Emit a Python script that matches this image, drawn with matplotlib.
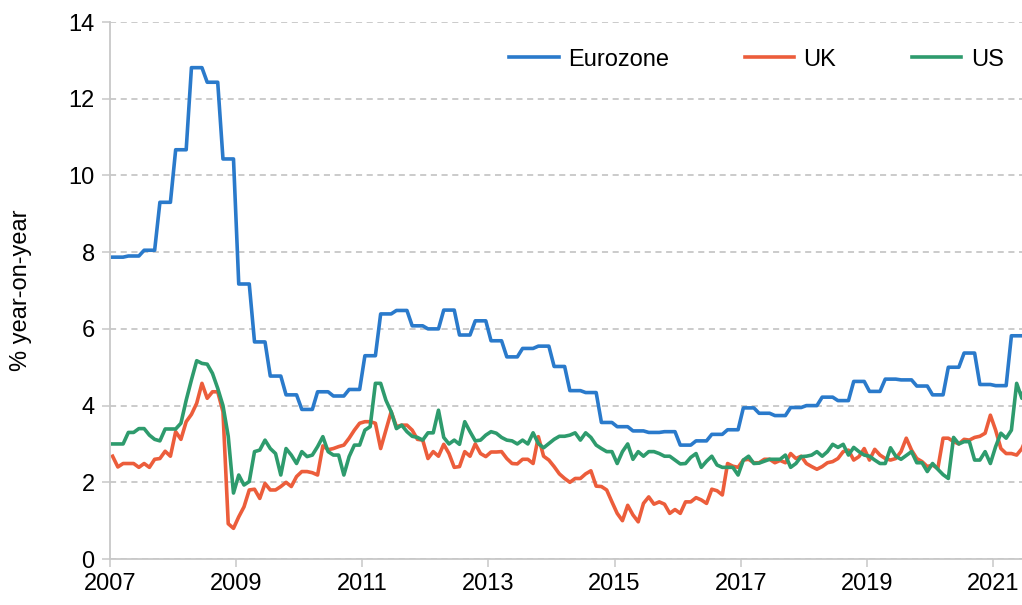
import numpy as np
import matplotlib
matplotlib.use('Agg')
import matplotlib.pyplot as plt

plt.rcParams['font.family'] = ['Liberation Sans', 'DejaVu Sans']

# quarterly values, 2007Q1 .. 2021Q2 (each shown over three months)
EURO_Q = [7.87, 7.9, 8.05, 9.3,
          10.67, 12.81, 12.43, 10.43,
          7.17, 5.66, 4.77, 4.28,
          3.9, 4.36, 4.25, 4.42,
          5.3, 6.39, 6.48, 6.08,
          6.0, 6.49, 5.84, 6.21,
          5.69, 5.27, 5.49, 5.55,
          5.02, 4.39, 4.34, 3.56,
          3.45, 3.34, 3.3, 3.32,
          2.97, 3.08, 3.25, 3.37,
          3.94, 3.8, 3.74, 3.95,
          4.0, 4.22, 4.13, 4.63,
          4.37, 4.69, 4.67, 4.51,
          4.28, 5.0, 5.37, 4.55,
          4.52, 5.82]

# monthly values, Jan 2007 onwards
UK = [2.68, 2.4, 2.49, 2.49, 2.49, 2.39, 2.49, 2.39, 2.6, 2.62, 2.81, 2.68,
      3.32, 3.12, 3.58, 3.77, 4.06, 4.58, 4.19, 4.36, 4.36, 3.84, 0.92, 0.8,
      1.1, 1.36, 1.8, 1.82, 1.58, 1.97, 1.8, 1.8, 1.89, 2.0, 1.89, 2.15,
      2.28, 2.28, 2.25, 2.19, 2.95, 2.85, 2.88, 2.93, 2.97, 3.15, 3.36, 3.54,
      3.58, 3.58, 3.54, 2.88, 3.36, 3.84, 3.45, 3.49, 3.49, 3.36, 3.12, 3.1,
      2.62, 2.8, 2.68, 2.99, 2.75, 2.39, 2.41, 2.8, 2.68, 3.0, 2.75, 2.67,
      2.79, 2.79, 2.8, 2.62, 2.49, 2.48, 2.6, 2.6, 2.49, 3.19, 2.68, 2.58,
      2.41, 2.22, 2.1, 2.0, 2.1, 2.1, 2.22, 2.3, 1.9, 1.89, 1.8, 1.49,
      1.19, 1.0, 1.4, 1.15, 0.97, 1.45, 1.62, 1.43, 1.49, 1.43, 1.19, 1.29,
      1.19, 1.49, 1.49, 1.6, 1.54, 1.45, 1.82, 1.78, 1.67, 2.49, 2.42, 2.39,
      2.58, 2.6, 2.51, 2.51, 2.6, 2.6, 2.51, 2.57, 2.51, 2.75, 2.62, 2.68,
      2.49, 2.41, 2.34, 2.41, 2.51, 2.54, 2.62, 2.8, 2.84, 2.58, 2.67, 2.88,
      2.58, 2.86, 2.71, 2.62, 2.58, 2.62, 2.8, 3.15, 2.84, 2.62, 2.54, 2.41,
      2.45, 2.36, 3.15, 3.15, 3.06, 3.0, 3.12, 3.1, 3.17, 3.2, 3.28, 3.75,
      3.36, 2.88, 2.75, 2.75, 2.71, 2.88, 3.2]

US = [3.0, 3.0, 3.0, 3.3, 3.3, 3.4, 3.4, 3.23, 3.12, 3.08, 3.39, 3.39,
      3.39, 3.54, 4.14, 4.67, 5.17, 5.1, 5.08, 4.84, 4.45, 4.0, 3.2, 1.72,
      2.19, 1.93, 2.02, 2.8, 2.84, 3.1, 2.88, 2.75, 2.19, 2.88, 2.71, 2.49,
      2.8, 2.67, 2.71, 2.93, 3.19, 2.8, 2.71, 2.71, 2.19, 2.67, 2.97, 2.97,
      3.36, 3.45, 4.58, 4.58, 4.14, 3.84, 3.4, 3.49, 3.32, 3.2, 3.17, 3.1,
      3.29, 3.29, 3.88, 3.17, 3.0, 3.1, 2.99, 3.58, 3.32, 3.08, 3.1, 3.23,
      3.32, 3.28, 3.17, 3.1, 3.08, 3.0, 3.1, 3.0, 3.29, 3.01, 2.9, 3.01,
      3.12, 3.2, 3.2, 3.23, 3.29, 3.1, 3.29, 3.17, 2.97, 2.88, 2.8, 2.8,
      2.49, 2.8, 3.0, 2.6, 2.8, 2.68, 2.8, 2.8, 2.75, 2.68, 2.68, 2.58,
      2.48, 2.49, 2.65, 2.75, 2.39, 2.55, 2.68, 2.45, 2.39, 2.39, 2.39, 2.19,
      2.58, 2.68, 2.49, 2.5, 2.55, 2.6, 2.6, 2.6, 2.71, 2.39, 2.49, 2.67,
      2.68, 2.71, 2.8, 2.68, 2.8, 2.99, 2.91, 2.99, 2.71, 2.91, 2.8, 2.71,
      2.68, 2.58, 2.49, 2.49, 2.9, 2.68, 2.6, 2.7, 2.8, 2.51, 2.51, 2.28,
      2.49, 2.34, 2.2, 2.1, 3.17, 3.0, 3.06, 3.06, 2.58, 2.58, 2.8, 2.49,
      2.93, 3.28, 3.15, 3.36, 4.58, 4.19, 4.8]

YEARS = ['2007', '2009', '2011', '2013', '2015', '2017', '2019', '2021']

COL_EURO = '#2a7acb'
COL_UK = '#ec5d3b'
COL_US = '#2e9b6d'
GRID = '#bdbdbd'
FS = 17


def main():
    euro = list(np.repeat(EURO_Q, 3))
    euro.append(EURO_Q[-1])
    n = len(UK)
    x = np.arange(n) + 0.5  # points sit in the middle of each month slot

    fig = plt.figure(figsize=(10.22, 6.05), dpi=100)
    ax = fig.add_axes([0.1076, 0.076, 0.8954, 0.8876])

    lw = 2.6
    ax.plot(x, euro[:n], color=COL_EURO, lw=lw, label='Eurozone')
    ax.plot(x, UK, color=COL_UK, lw=lw, label='UK')
    ax.plot(x, US, color=COL_US, lw=lw, label='US')

    ax.set_ylim(0, 14)
    ax.set_yticks(np.arange(0, 15, 2))
    ax.set_xlim(0, 174.1)
    ax.set_xticks(np.arange(0, 24 * len(YEARS), 24))
    ax.set_xticklabels(YEARS)

    ax.grid(axis='y', color=GRID, ls=(0, (4, 3)), lw=1.1)
    ax.set_axisbelow(True)
    for s in ['top', 'right']:
        ax.spines[s].set_visible(False)
    for s in ['left', 'bottom']:
        ax.spines[s].set_color('#c8c8c8')
        ax.spines[s].set_linewidth(1.3)
    ax.tick_params(axis='both', colors='#c8c8c8', labelcolor='black',
                   labelsize=FS, length=6, width=1.1)
    ax.tick_params(axis='x', pad=4)
    ax.tick_params(axis='y', pad=5)

    ax.set_ylabel('% year-on-year', fontsize=FS, labelpad=26)

    ax.legend(loc='center right', bbox_to_anchor=(1.0, 0.93), ncol=3,
              frameon=False, fontsize=FS, handlelength=2.1,
              handletextpad=0.4, columnspacing=3.2)

    fig.savefig('out.png', dpi=100)


if __name__ == '__main__':
    main()
